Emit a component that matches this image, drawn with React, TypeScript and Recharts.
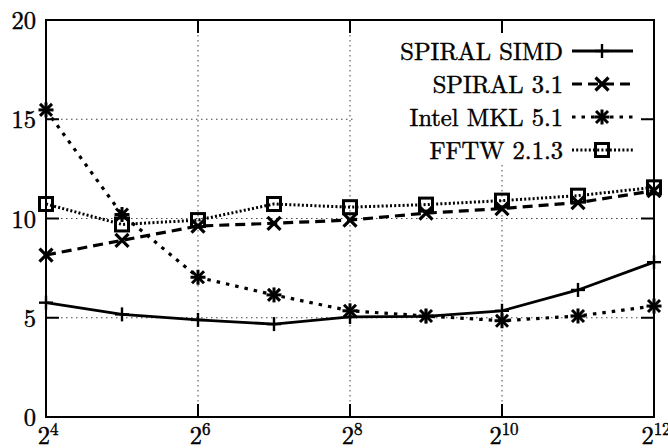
import React from "react";
import { LineChart, Line, XAxis, YAxis, CartesianGrid, ReferenceArea } from "recharts";

const exponents = [4, 5, 6, 7, 8, 9, 10, 11, 12];
const spiralSimd = [5.76, 5.17, 4.89, 4.68, 5.04, 5.07, 5.35, 6.4, 7.8];
const spiral31 = [8.16, 8.9, 9.62, 9.76, 9.92, 10.27, 10.5, 10.8, 11.4];
const intelMkl = [15.47, 10.2, 7.04, 6.15, 5.35, 5.09, 4.85, 5.09, 5.59];
const fftw = [10.73, 9.7, 9.92, 10.73, 10.57, 10.7, 10.9, 11.15, 11.57];

const xTicks = [4, 6, 8, 10, 12];
const yTicks = [0, 5, 10, 15, 20];
const seriesNames = ["SPIRAL SIMD", "SPIRAL 3.1", "Intel MKL 5.1", "FFTW 2.1.3"];

const data = exponents.map((e, i) => ({
  exp: e,
  simd: spiralSimd[i],
  s31: spiral31[i],
  mkl: intelMkl[i],
  fftw: fftw[i],
}));

const W = 668;
const H = 448;
const TOP = 20;
const LEFT = 46;
const RIGHT_M = 14;
const XAXIS_H = 31;
const BOTTOM = H - XAXIS_H;
const RIGHT = W - RIGHT_M;
const TICK = 13;
const FONT = "Latin Modern Roman";
const FS = 24.5;
const TXT_STROKE = 0.45;

type MarkerKind = "plus" | "cross" | "star" | "square";

const Marker = ({ cx, cy, kind }: { cx: number; cy: number; kind: MarkerKind }) => {
  const s = 7;
  if (kind === "plus") {
    return (
      <g stroke="#000" strokeWidth={2.4} fill="none">
        <line x1={cx - s} y1={cy} x2={cx + s} y2={cy} />
        <line x1={cx} y1={cy - s} x2={cx} y2={cy + s} />
      </g>
    );
  }
  if (kind === "cross") {
    return (
      <g stroke="#000" strokeWidth={3.2} fill="none">
        <line x1={cx - 6.5} y1={cy - 6.5} x2={cx + 6.5} y2={cy + 6.5} />
        <line x1={cx - 6.5} y1={cy + 6.5} x2={cx + 6.5} y2={cy - 6.5} />
      </g>
    );
  }
  if (kind === "star") {
    return (
      <g stroke="#000" strokeWidth={3} fill="none">
        <line x1={cx - 6} y1={cy - 6} x2={cx + 6} y2={cy + 6} />
        <line x1={cx - 6} y1={cy + 6} x2={cx + 6} y2={cy - 6} />
        <line x1={cx - 7.5} y1={cy} x2={cx + 7.5} y2={cy} />
        <line x1={cx} y1={cy - 7.5} x2={cx} y2={cy + 7.5} />
      </g>
    );
  }
  return (
    <rect x={cx - 6.5} y={cy - 6.5} width={13} height={13} stroke="#000" strokeWidth={3} fill="none" />
  );
};

const seriesStyles: { key: string; dash?: string; width: number; marker: MarkerKind }[] = [
  { key: "simd", dash: undefined, width: 2.8, marker: "plus" },
  { key: "s31", dash: "10 6", width: 3.2, marker: "cross" },
  { key: "mkl", dash: "3.5 6", width: 3.2, marker: "star" },
  { key: "fftw", dash: "2 2.2", width: 3, marker: "square" },
];

const XTick = (props: any) => {
  const { x, payload } = props;
  return (
    <g>
      <line x1={x} y1={BOTTOM} x2={x} y2={BOTTOM - TICK} stroke="#000" strokeWidth={2} />
      <line x1={x} y1={TOP} x2={x} y2={TOP + TICK} stroke="#000" strokeWidth={2} />
      <text
        x={x + 2}
        y={444}
        textAnchor="middle"
        style={{ fontFamily: FONT }}
        fontSize={FS}
        fill="#000"
        stroke="#000"
        strokeWidth={TXT_STROKE}
      >
        <tspan>2</tspan>
        <tspan fontSize={17} dy={-9}>{payload.value}</tspan>
      </text>
    </g>
  );
};

const YTick = (props: any) => {
  const { y, payload } = props;
  return (
    <g>
      <line x1={LEFT} y1={y} x2={LEFT + TICK} y2={y} stroke="#000" strokeWidth={2} />
      <line x1={RIGHT} y1={y} x2={RIGHT - TICK} y2={y} stroke="#000" strokeWidth={2} />
      <text
        x={LEFT - 10}
        y={y + 9}
        textAnchor="end"
        style={{ fontFamily: FONT }}
        fontSize={FS}
        fill="#000"
        stroke="#000"
        strokeWidth={TXT_STROKE}
      >
        {payload.value}
      </text>
    </g>
  );
};

const LegendBox = () => {
  const boxLeft = 354;
  const boxTop = 35;
  return (
    <svg
      width={286}
      height={130}
      style={{ position: "absolute", left: boxLeft, top: boxTop, background: "#fff" }}
    >
      {seriesNames.map((name, i) => {
        const cy = 16 + i * 33;
        const st = seriesStyles[i];
        return (
          <g key={name}>
            <text
              x={209}
              y={cy + 8.5}
              textAnchor="end"
              style={{ fontFamily: FONT }}
              fontSize={FS}
              fill="#000"
              stroke="#000"
              strokeWidth={TXT_STROKE}
            >
              {name}
            </text>
            <line
              x1={218}
              y1={cy}
              x2={279}
              y2={cy}
              stroke="#000"
              strokeWidth={st.width}
              strokeDasharray={st.dash}
            />
            <Marker cx={248} cy={cy} kind={st.marker} />
          </g>
        );
      })}
    </svg>
  );
};

export default function App() {
  return (
    <div style={{ position: "absolute", left: 0, top: 0, width: W, height: H, background: "#fff" }}>
      <LineChart width={W} height={H} data={data} margin={{ top: TOP, right: RIGHT_M, bottom: 0, left: 0 }}>
        <CartesianGrid stroke="#444" strokeWidth={1} strokeDasharray="1.5 3.5" />
        <XAxis
          type="number"
          dataKey="exp"
          domain={[4, 12]}
          ticks={xTicks}
          interval={0}
          height={XAXIS_H}
          axisLine={false}
          tickLine={false}
          tick={<XTick />}
        />
        <YAxis
          type="number"
          domain={[0, 20]}
          ticks={yTicks}
          interval={0}
          width={LEFT}
          axisLine={false}
          tickLine={false}
          tick={<YTick />}
        />
        <ReferenceArea x1={4} x2={12} y1={0} y2={20} fill="none" stroke="#000" strokeWidth={2} />
        {seriesStyles.map((st) => (
          <Line
            key={st.key}
            type="linear"
            dataKey={st.key}
            stroke="#000"
            strokeWidth={st.width}
            strokeDasharray={st.dash}
            isAnimationActive={false}
            dot={(p: any) => <Marker key={`${st.key}-${p.index}`} cx={p.cx} cy={p.cy} kind={st.marker} />}
            activeDot={false}
          />
        ))}
      </LineChart>
      <LegendBox />
    </div>
  );
}
